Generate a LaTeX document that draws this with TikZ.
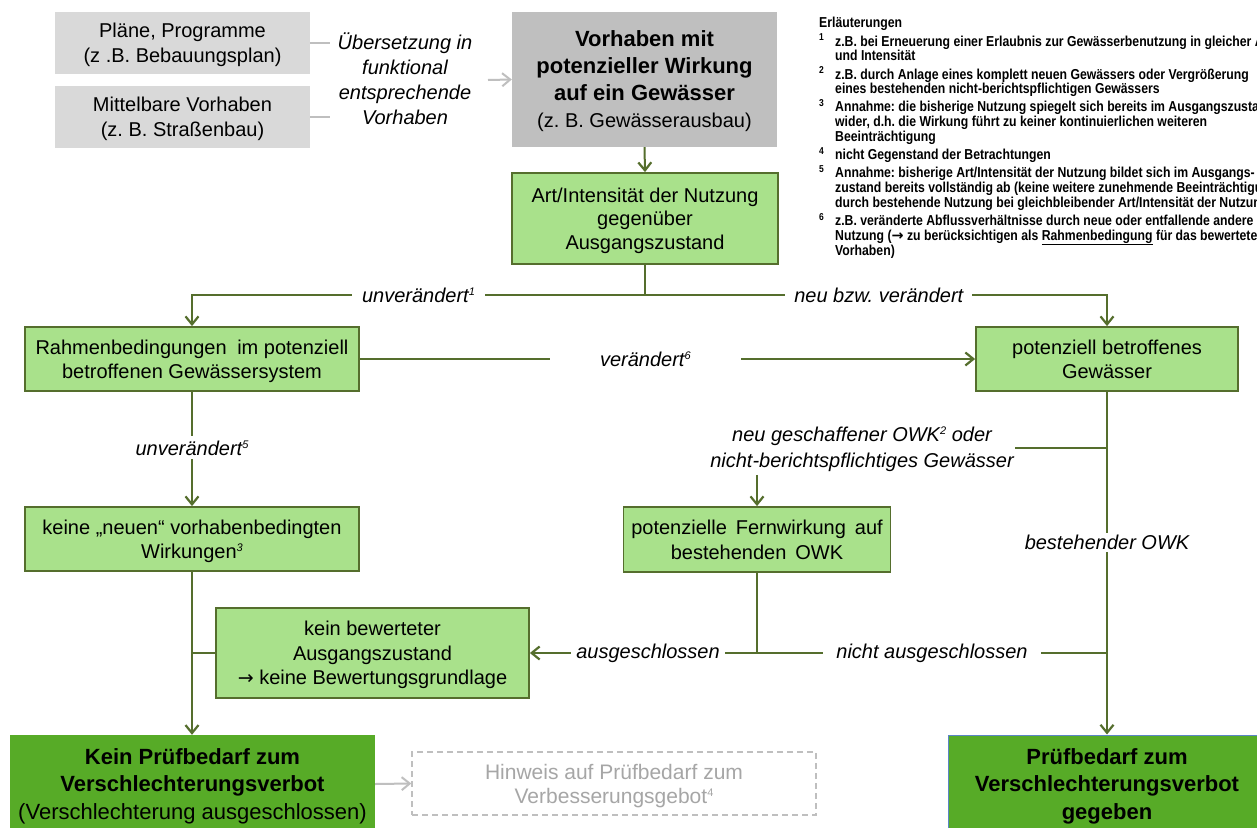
\documentclass[tikz,border=0pt]{standalone}
\usepackage{fontspec}
\setmainfont{Liberation Sans}
\newfontfamily\notefont[FakeStretch=0.85]{Liberation Sans}
\newfontfamily\symfont{DejaVu Sans}
\usetikzlibrary{arrows.meta}
\frenchspacing

\definecolor{graylight}{HTML}{D9D9D9}
\definecolor{graymid}{HTML}{BFBFBF}
\definecolor{graytext}{HTML}{A6A6A6}
\definecolor{lgreen}{HTML}{A9E18B}
\definecolor{dgreen}{HTML}{57AB27}
\definecolor{olive}{HTML}{556E2D}
\definecolor{edgeblue}{HTML}{5B85C6}

\newcommand\fmain{\fontsize{20}{24.5}\selectfont}
\newcommand\fbig{\fontsize{22}{27.5}\selectfont\bfseries}
% small raised index used in the labels
\newcommand\sups[1]{\raisebox{7pt}{\fontsize{11}{11}\selectfont #1}}
\newcommand\rarr{{\symfont\fontsize{19}{19}\selectfont →}}

\tikzset{
  pbox/.style={fill=graylight, draw=none, align=center, font=\fontsize{20}{25}\selectfont},
  vbox/.style={fill=graymid, draw=none, align=center},
  lbox/.style={fill=lgreen, draw=olive, line width=1.8pt, align=center, font=\fmain, text depth=-2pt},
  dbox/.style={fill=dgreen, draw=none, align=center, font=\fbig, text depth=-2pt},
  hbox/.style={draw=graymid, line width=1.4pt, dash pattern=on 6pt off 4pt, align=center,
               text=graytext, font=\fontsize{21}{24}\selectfont, text depth=-3.6pt},
  conn/.style={draw=olive, line width=2pt},
  arr/.style={-{Straight Barb[length=8pt,width=13pt,line width=2.2pt]}},
  grayline/.style={draw=graymid, line width=1.6pt},
  grayarr/.style={draw=graymid, line width=2pt, -{Straight Barb[length=8pt,width=13pt,line width=2pt]}},
  lbl/.style={fill=white, font=\fmain\itshape, inner xsep=6pt, inner ysep=3pt, align=center},
}

\begin{document}
\begin{tikzpicture}[x=1pt,y=-1pt]
\clip (0,0) rectangle (1257,827);
\fill[white] (0,0) rectangle (1257,827);

% --- origin of the project -------------------------------------------------
\node[pbox, text depth=-1pt, minimum width=255, minimum height=62] (plan) at (182.5,43)
  {Pläne, Programme\\(z .B. Bebauungsplan)};
\node[pbox, text depth=-5.5pt, minimum width=255, minimum height=62] (mittel) at (182.5,117)
  {Mittelbare Vorhaben\\(z. B. Straßenbau)};
\node[align=center, font=\fontsize{20}{25}\selectfont\itshape] (uebers) at (405,79)
  {Übersetzung in\\funktional\\entsprechende\\Vorhaben};
\coordinate (g1) at (330,43);
\coordinate (g2) at (330,117);
\coordinate (g3) at (488,80);
\draw[grayline] (plan.east) -- (g1);
\draw[grayline] (mittel.east) -- (g2);

\node[vbox, text depth=-8.8pt, minimum width=265, minimum height=135, font=\fontsize{20}{27}\selectfont] (vorhaben) at (644.5,79.5)
  {{\fontsize{22}{27}\selectfont\bfseries Vorhaben mit}\\
   {\fontsize{22}{27}\selectfont\bfseries potenzieller Wirkung}\\
   {\fontsize{22}{27}\selectfont\bfseries auf ein Gewässer}\\
   (z. B. Gewässerausbau)};
\draw[grayarr] (g3) -- (vorhaben.west);

% --- decision boxes ---------------------------------------------------------
\node[lbox, minimum width=266, minimum height=91, font=\fontsize{20}{23.5}\selectfont] (art) at (645,218.5)
  {Art/Intensität der Nutzung\\gegenüber\\Ausgangszustand};
\node[lbox, minimum width=334, minimum height=64] (rahmen) at (192,359)
  {Rahmenbedingungen\hspace{5pt} im potenziell\\betroffenen Gewässersystem};
\node[lbox, minimum width=262, minimum height=64] (potgew) at (1107,359)
  {potenziell betroffenes\\Gewässer};
\node[lbox, minimum width=334, minimum height=64] (keine) at (192,539)
  {keine „neuen“ vorhabenbedingten\\Wirkungen\sups{\itshape 3}};
\node[lbox, text depth=-0.5pt, minimum width=267, minimum height=65] (fern) at (757,539.5)
  {potenzielle\hspace{9pt}Fernwirkung\hspace{9pt}auf\\bestehenden\hspace{9pt}OWK};
\node[lbox, minimum width=313, minimum height=90] (keinbew) at (372.5,653)
  {kein bewerteter\\Ausgangszustand\\\rarr\ keine Bewertungsgrundlage};

% --- results ----------------------------------------------------------------
\node[dbox, minimum width=365, minimum height=98] (keinpruef) at (192.5,784)
  {Kein Prüfbedarf zum\\Verschlechterungsverbot\\{\fontsize{22}{27.5}\selectfont\mdseries(Verschlechterung ausgeschlossen)}};
\node[dbox, draw=edgeblue, line width=1pt, minimum width=318, minimum height=98] (pruef) at (1107,784)
  {Prüfbedarf zum\\Verschlechterungsverbot\\gegeben};
\node[hbox, minimum width=404, minimum height=63] (hinweis) at (614,783.5)
  {Hinweis auf Prüfbedarf zum\\Verbesserungsgebot\sups{4}};

% --- connectors -------------------------------------------------------------
\coordinate (j1) at (645,295);
\draw[conn,arr] (vorhaben.south) -- (art.north);
\draw[conn] (art.south) -- (j1);
\draw[conn,arr] (j1) -- node[lbl, inner xsep=10pt] {unverändert\sups{1}} (j1 -| rahmen.north) -- (rahmen.north);
\draw[conn,arr] (j1) -- node[lbl, pos=0.506, inner xsep=9pt] {neu bzw. verändert} (j1 -| potgew.north) -- (potgew.north);
\draw[conn,arr] (rahmen.east) -- node[lbl, pos=0.464, inner xsep=50pt] {verändert\sups{6}} (potgew.west);
\draw[conn,arr] (rahmen.south) -- node[lbl, pos=0.49, inner ysep=4pt] {unverändert\sups{5}} (keine.north);
\draw[conn,arr] (keine.south) -- (keine.south |- keinpruef.north);
\draw[conn] (keinbew.west) -- (keinbew.west -| keine.south);

\node[font=\fontsize{20}{26}\selectfont\itshape, align=center, inner xsep=1pt] (neulbl) at (862,449)
  {neu geschaffener OWK\sups{2} oder\\nicht-berichtspflichtiges Gewässer};
\coordinate (j2) at (1107,448);
\draw[conn] (potgew.south) -- (j2) -- (neulbl.east |- j2);
\draw[conn,arr] (fern.north |- neulbl.south) -- (fern.north);
\draw[conn,arr] (j2) -- node[lbl, pos=0.331, inner ysep=2pt] {bestehender OWK} (pruef.north);

\coordinate (j3) at (fern.south |- keinbew.east);
\draw[conn] (fern.south) -- (j3);
\draw[conn,arr] (j3) -- node[lbl, pos=0.48, inner xsep=5.5pt] {ausgeschlossen} (keinbew.east);
\draw[conn] (j3) -- node[lbl, inner xsep=13pt] {nicht ausgeschlossen} (j3 -| pruef.north);
\draw[grayarr] (keinpruef.east) -- (hinweis.west);

% --- footnotes --------------------------------------------------------------
\node[anchor=north west, inner sep=0pt, align=left,
      font=\notefont\fontsize{14.4}{14.6}\selectfont\bfseries] (notes) at (819,17)
{\begin{tabular}{@{}l@{}l@{}}
\multicolumn{2}{@{}l}{Erläuterungen}\\[2pt]
\makebox[16pt][l]{\textsuperscript{1}} & z.B. bei Erneuerung einer Erlaubnis zur Gewässerbenutzung in gleicher Art\\
 & und Intensität\\[1.5pt]
\makebox[16pt][l]{\textsuperscript{2}} & z.B. durch Anlage eines komplett neuen Gewässers oder Vergrößerung\\
 & eines bestehenden nicht-berichtspflichtigen Gewässers\\[1.5pt]
\makebox[16pt][l]{\textsuperscript{3}} & Annahme: die bisherige Nutzung spiegelt sich bereits im Ausgangszustand\\
 & wider, d.h. die Wirkung führt zu keiner kontinuierlichen weiteren\\
 & Beeinträchtigung\\[1.5pt]
\makebox[16pt][l]{\textsuperscript{4}} & nicht Gegenstand der Betrachtungen\\[1.5pt]
\makebox[16pt][l]{\textsuperscript{5}} & Annahme: bisherige Art/Intensität der Nutzung bildet sich im Ausgangs-\\
 & zustand bereits vollständig ab (keine weitere zunehmende Beeinträchtigung\\
 & durch bestehende Nutzung bei gleichbleibender Art/Intensität der Nutzung)\\[1.5pt]
\makebox[16pt][l]{\textsuperscript{6}} & z.B. veränderte Abflussverhältnisse durch neue oder entfallende andere\\
 & Nutzung ({\symfont\bfseries →} zu berücksichtigen als \underline{Rahmenbedingung} für das bewertete\\
 & Vorhaben)
\end{tabular}};
\end{tikzpicture}
\end{document}
